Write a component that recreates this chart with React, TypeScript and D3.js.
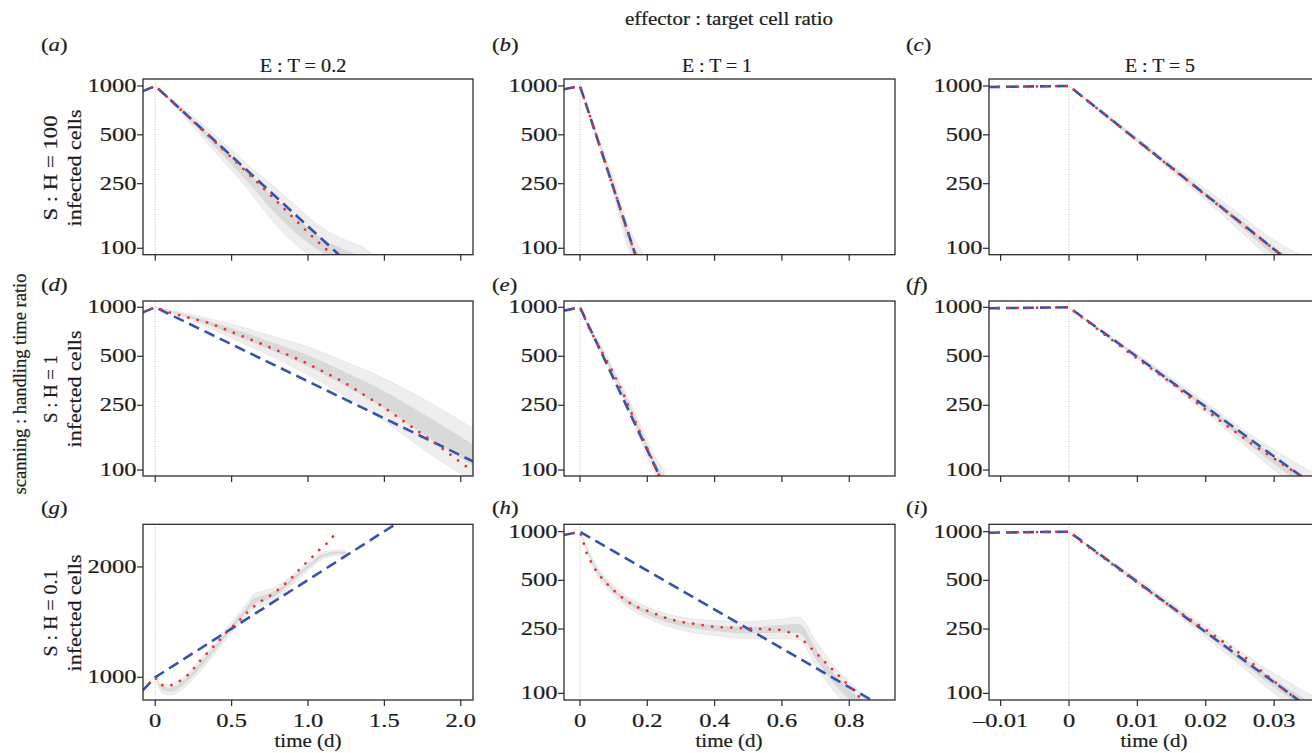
import * as d3 from "d3";

type Pt = [number, number];
type Band = [number, number, number];

// time axes per column (days)
const colDomains: [number, number][] = [[-0.08, 2.08], [-0.0475, 0.936], [-0.0117, 0.037]];
const colTicks = [[0, 0.5, 1.0, 1.5, 2.0], [0, 0.2, 0.4, 0.6, 0.8], [-0.01, 0, 0.01, 0.02, 0.03]];
const colTickLabels = [
  ["0", "0.5", "1.0", "1.5", "2.0"],
  ["0", "0.2", "0.4", "0.6", "0.8"],
  ["\u20130.01", "0", "0.01", "0.02", "0.03"],
];
const colTitles = ["E : T = 0.2", "E : T = 1", "E : T = 5"];
const rowTitles = ["S : H = 100", "S : H = 1", "S : H = 0.1"];
const letters = ["a", "b", "c", "d", "e", "f", "g", "h", "i"];

// infected cells axes (log) per panel
const yDomains: [number, number][] = [
  [91.3, 1104], [91.3, 1104], [91.3, 1104],
  [91.9, 1093], [91.9, 1093], [91.9, 1093],
  [867, 2614], [91, 1111], [91, 1111],
];
const yTicksStd = [100, 250, 500, 1000];
const yTicksG = [1000, 2000];

// blue dashed: exponential fit
const blueA: Pt[] = [[-0.08, 930], [0, 1000], [1.25, 83]];
const blueB: Pt[] = [[-0.0475, 954], [0, 1000], [0.18, 73]];
const blueC: Pt[] = [[-0.0117, 986], [0, 1000], [0.035, 67]];
const blueD: Pt[] = [[-0.08, 930], [0, 1000], [2.08, 113]];
const blueE: Pt[] = [[-0.0475, 954], [0, 1000], [0.25, 80]];
const blueF: Pt[] = [[-0.0117, 986], [0, 1000], [0.037, 74]];
const blueG: Pt[] = [[-0.08, 923], [0, 1000], [1.6, 2660]];
const blueH: Pt[] = [[-0.0475, 954], [0, 1000], [0.936, 75]];
const blueI: Pt[] = [[-0.0117, 986], [0, 1000], [0.037, 71]];

// red dotted: deterministic model
const redA: Pt[] = [[-0.08, 930], [0, 1000], [0.25, 605], [0.5, 362], [0.75, 215], [1.0, 125], [1.2, 84]];
const redB: Pt[] = [[-0.0475, 954], [0, 1000], [0.08, 315], [0.158, 100], [0.18, 77]];
const redC: Pt[] = [[-0.0117, 986], [0, 1000], [0.01, 460], [0.02, 212], [0.031, 91], [0.035, 65]];
const redD: Pt[] = [[-0.08, 930], [0, 1000], [0.1, 925], [0.36, 797], [0.66, 615], [0.95, 474], [1.23, 349], [1.49, 245], [1.82, 149], [2.08, 98]];
const redE: Pt[] = [[-0.0475, 954], [0, 1000], [0.0099, 897], [0.0297, 725], [0.054, 586], [0.089, 432], [0.124, 311], [0.158, 212], [0.198, 139], [0.228, 100], [0.24, 88]];
const redF: Pt[] = [[-0.0117, 986], [0, 1000], [0.005, 690], [0.0095, 500], [0.0153, 335], [0.0207, 222], [0.0266, 146], [0.0335, 94], [0.037, 74]];
const redG: Pt[] = [[-0.08, 923], [0, 1000], [0.026, 958], [0.074, 943], [0.129, 958], [0.179, 988], [0.227, 1025], [0.288, 1103], [0.358, 1186], [0.412, 1250], [0.467, 1330], [0.537, 1410], [0.598, 1498], [0.674, 1596], [0.74, 1657], [0.816, 1746], [0.893, 1866], [0.958, 1999], [1.017, 2106], [1.073, 2222], [1.143, 2359], [1.198, 2532]];
const redH: Pt[] = [[-0.0475, 954], [0, 1000], [0.005, 931], [0.02, 735], [0.04, 607], [0.069, 502], [0.099, 436], [0.134, 378], [0.168, 343], [0.208, 320], [0.258, 291], [0.297, 277], [0.347, 268], [0.396, 258], [0.446, 255], [0.495, 252], [0.545, 250], [0.594, 247], [0.634, 235], [0.663, 213], [0.693, 185], [0.723, 160], [0.753, 139], [0.783, 120], [0.812, 105], [0.834, 93]];
const redI: Pt[] = [[-0.0117, 986], [0, 1000], [0.0021, 847], [0.00505, 690], [0.00946, 502], [0.01387, 369], [0.01975, 252], [0.02563, 169], [0.03151, 105], [0.03348, 91], [0.037, 72]];

// grey: spread of stochastic runs [t, low, high]
const simA: Band[] = [[0, 1000, 1000], [0.1, 800, 845], [0.2, 630, 710], [0.4, 385, 490], [0.6, 235, 330], [0.8, 136, 230], [0.95, 100, 172], [1.1, 80, 132], [1.25, 70, 112], [1.37, 62, 100], [1.45, 55, 88]];
const simB: Band[] = [[0, 1000, 1000], [0.05, 470, 520], [0.1, 215, 265], [0.143, 100, 140], [0.16, 80, 115], [0.178, 65, 100], [0.2, 55, 80]];
const simC: Band[] = [[0, 1000, 1000], [0.005, 665, 700], [0.01, 448, 478], [0.015, 298, 330], [0.02, 198, 232], [0.025, 128, 162], [0.03, 82, 112], [0.033, 65, 95], [0.037, 55, 80]];
const simD: Band[] = [[0, 1000, 1000], [0.25, 825, 895], [0.5, 645, 790], [0.75, 505, 670], [1.0, 385, 570], [1.25, 282, 460], [1.5, 200, 365], [1.75, 135, 275], [2.08, 85, 180]];
const simE: Band[] = [[0, 1000, 1000], [0.03, 695, 755], [0.06, 535, 595], [0.1, 370, 415], [0.15, 218, 258], [0.2, 122, 152], [0.228, 90, 116], [0.25, 75, 100]];
const simF: Band[] = [[0, 1000, 1000], [0.005, 685, 715], [0.01, 482, 518], [0.015, 332, 368], [0.02, 226, 262], [0.025, 150, 183], [0.03, 100, 133], [0.035, 68, 100], [0.037, 60, 90]];
const simG: Band[] = [[0, 1000, 1000], [0.05, 905, 960], [0.1, 895, 955], [0.2, 945, 1015], [0.3, 1045, 1125], [0.4, 1175, 1255], [0.5, 1325, 1415], [0.6, 1475, 1590], [0.65, 1545, 1690], [0.7, 1565, 1715], [0.8, 1645, 1775], [0.9, 1795, 1905], [1.0, 1955, 2055], [1.1, 2105, 2195], [1.2, 2150, 2225], [1.25, 2150, 2215]];
const simH: Band[] = [[0, 1000, 1000], [0.05, 545, 615], [0.1, 405, 465], [0.2, 292, 342], [0.3, 247, 297], [0.4, 228, 282], [0.5, 218, 278], [0.6, 218, 288], [0.65, 215, 296], [0.7, 148, 212], [0.75, 106, 152], [0.8, 82, 118], [0.85, 72, 95]];
const simI: Band[] = [[0, 1000, 1000], [0.005, 675, 715], [0.01, 472, 512], [0.015, 327, 363], [0.02, 222, 258], [0.025, 150, 183], [0.03, 100, 133], [0.035, 70, 100], [0.037, 62, 90]];

const blues = [blueA, blueB, blueC, blueD, blueE, blueF, blueG, blueH, blueI];
const reds = [redA, redB, redC, redD, redE, redF, redG, redH, redI];
const sims = [simA, simB, simC, simD, simE, simF, simG, simH, simI];

const W = 1312;
const H = 753;
const colLeft = [143, 564, 989];
const colRight = [473, 895, 1322];
const rowTop = [79, 301, 524.3];
const rowBottom = [254.7, 476, 700];
const letterX = [41, 492, 906];
const letterY = [51, 291, 514];

const FONT = '"Liberation Serif", "Times New Roman", Times, serif';
const INK = "#1c1c1c";

function Txt({ x, y, rot = 0, sx = 1, anchor = "middle", size = 18, len, children }: any) {
  return (
    <text
      transform={`translate(${x},${y}) rotate(${rot}) scale(${sx},1)`}
      textAnchor={anchor}
      fontSize={size}
      style={{ fontFamily: FONT }}
      fill={INK}
      stroke={INK}
      strokeWidth={0.2}
      textLength={len}
      lengthAdjust={len ? "spacingAndGlyphs" : undefined}
    >
      {children}
    </text>
  );
}

function Panel({ idx }: { idx: number }) {
  const col = idx % 3;
  const row = Math.floor(idx / 3);
  const x0 = colLeft[col], x1 = colRight[col];
  const y0 = rowTop[row], y1 = rowBottom[row];

  const x = d3.scaleLinear().domain(colDomains[col]).range([x0, x1]);
  const y = d3.scaleLog().domain(yDomains[idx]).range([y1, y0]);

  const line = d3.line<Pt>().x(d => x(d[0])).y(d => y(d[1]));
  const area = d3.area<Band>().x(d => x(d[0])).y0(d => y(d[1])).y1(d => y(d[2])).curve(d3.curveMonotoneX);
  // denser middle of the runs
  const core: Band[] = sims[idx].map(d => [d[0], Math.pow(d[1], 0.7) * Math.pow(d[2], 0.3), Math.pow(d[1], 0.3) * Math.pow(d[2], 0.7)]);

  const clipId = `clip-${idx}`;
  const yTicks = idx === 6 ? yTicksG : yTicksStd;

  return (
    <g>
      <defs>
        <clipPath id={clipId}>
          <rect x={x0} y={y0} width={x1 - x0} height={y1 - y0} />
        </clipPath>
      </defs>
      <g clipPath={`url(#${clipId})`}>
        <path d={area(sims[idx]) ?? ""} fill="#eeeeee" stroke="#e2e2e2" strokeWidth={0.7} />
        <path d={area(core) ?? ""} fill="#d9d9d9" stroke="none" />
        <line x1={x(0)} x2={x(0)} y1={y0} y2={y1} stroke="#b5b5b5" strokeWidth={0.9} strokeDasharray="1,1.5" />
        <path d={line(blues[idx]) ?? ""} fill="none" stroke="#3553ad" strokeWidth={2.6} strokeDasharray="11,6" />
        <path d={line(reds[idx]) ?? ""} fill="none" stroke="#ee2f2b" strokeWidth={2.7} strokeDasharray="0.1,9.5" strokeLinecap="round" />
      </g>
      <rect x={x0} y={y0} width={x1 - x0} height={y1 - y0} fill="none" stroke="#2b2b2b" strokeWidth={1.3} />
      {colTicks[col].map((t, i) => (
        <g key={"x" + i}>
          <line x1={x(t)} x2={x(t)} y1={y1} y2={y1 + 6} stroke="#2b2b2b" strokeWidth={1.2} />
          {row === 2 && (
            <Txt x={x(t)} y={y1 + 27} sx={1.36}>{colTickLabels[col][i]}</Txt>
          )}
        </g>
      ))}
      {yTicks.map((v, i) => (
        <g key={"y" + i}>
          <line x1={x0 - 6} x2={x0} y1={y(v)} y2={y(v)} stroke="#2b2b2b" strokeWidth={1.2} />
          <Txt x={x0 - 6.5} y={y(v) + 6} sx={1.36} anchor="end">{String(v)}</Txt>
        </g>
      ))}
      <text
        transform={`translate(${letterX[col]},${letterY[row]}) scale(1.2,1)`}
        fontSize={19}
        style={{ fontFamily: FONT }}
        fill={INK}
        stroke={INK}
        strokeWidth={0.2}
      >
        (<tspan fontStyle="italic">{letters[idx]}</tspan>)
      </text>
      {row === 2 && <Txt x={[308, 729, 1154][col]} y={747} len={67}>time (d)</Txt>}
    </g>
  );
}

export default function App() {
  const titleX = [303, 717, 1160];
  const titleLen = [86.7, 70, 70];
  const rowLen = [105, 68, 87];
  const rowMid = [168, 389, 613];
  return (
    <svg
      width={W}
      height={H}
      viewBox={`0 0 ${W} ${H}`}
      style={{ position: "absolute", left: 0, top: 0, background: "#fff", fontFamily: FONT }}
    >
      <rect x={0} y={0} width={W} height={H} fill="#fff" />
      <Txt x={729} y={25} len={208}>effector : target cell ratio</Txt>
      {colTitles.map((t, i) => (
        <Txt key={t} x={titleX[i]} y={71.5} len={titleLen[i]}>{t}</Txt>
      ))}
      {rowTitles.map((t, i) => (
        <g key={t}>
          <Txt x={57} y={rowMid[i]} rot={-90} len={rowLen[i]}>{t}</Txt>
          <Txt x={81} y={rowMid[i]} rot={-90} len={117}>infected cells</Txt>
        </g>
      ))}
      <Txt x={26} y={384} rot={-90} len={221}>scanning : handling time ratio</Txt>
      {letters.map((_, i) => (
        <Panel key={i} idx={i} />
      ))}
    </svg>
  );
}
